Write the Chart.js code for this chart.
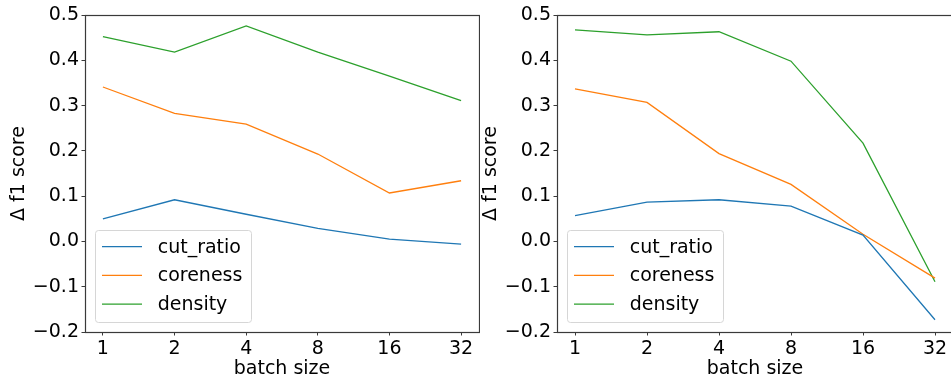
<!DOCTYPE html>
<html>
<head>
<meta charset="utf-8">
<script src="https://cdn.jsdelivr.net/npm/chart.js@4.4.1/dist/chart.umd.min.js"></script>
<style>
  html, body { margin: 0; padding: 0; background: #fff; width: 951px; height: 379px; overflow: hidden; }
  .panel { position: absolute; top: 0; height: 379px; }
  #leftPanel  { left: 0;     width: 480px; }
  #rightPanel { left: 472px; width: 488px; }
</style>
</head>
<body>
<div class="panel" id="leftPanel"><canvas id="leftChart"></canvas></div>
<div class="panel" id="rightPanel"><canvas id="rightChart"></canvas></div>
<script>
'use strict';

// ── Data ────────────────────────────────────────────────
const batchSizes  = ['1', '2', '4', '8', '16', '32'];
const yTicks      = [-0.2, -0.1, 0.0, 0.1, 0.2, 0.3, 0.4, 0.5];
const seriesNames = ['cut_ratio', 'coreness', 'density'];

const leftCutRatio  = [0.050, 0.092, 0.060, 0.029, 0.005, -0.006];
const leftCoreness  = [0.341, 0.283, 0.259, 0.193, 0.107, 0.134];
const leftDensity   = [0.452, 0.418, 0.476, 0.418, 0.365, 0.311];

const rightCutRatio = [0.057, 0.087, 0.092, 0.078, 0.014, -0.173];
const rightCoreness = [0.337, 0.307, 0.194, 0.126, 0.016, -0.081];
const rightDensity  = [0.467, 0.456, 0.463, 0.398, 0.217, -0.089];

const COLORS = ['#1f77b4', '#ff7f0e', '#2ca02c'];
const FONT = { family: "'DejaVu Sans', sans-serif", size: 19 };

// ── Spines: full box round the plot area ─────────────────
const spinesPlugin = {
    id: 'spines',
    afterDraw(chart) {
        const { ctx, chartArea: a } = chart;
        ctx.save();
        ctx.strokeStyle = '#3a3a3a';
        ctx.lineWidth = 1.2;
        ctx.strokeRect(Math.round(a.left) + 0.5, Math.round(a.top) + 0.5,
                       Math.round(a.right - a.left), Math.round(a.bottom - a.top));
        ctx.restore();
    }
};

// ── Legend drawn inside the plot, lower left ─────────────
const innerLegendPlugin = {
    id: 'innerLegend',
    afterDraw(chart) {
        const { ctx, chartArea: a } = chart;
        const sets = chart.data.datasets;
        const x0 = a.left + 10, w = 156, h = 92;
        const y0 = a.bottom - 10 - h;
        ctx.save();
        ctx.beginPath();
        ctx.roundRect(x0 + 0.5, y0 + 0.5, w, h, 3);
        ctx.fillStyle = 'rgba(255,255,255,0.8)';
        ctx.fill();
        ctx.strokeStyle = '#d6d6d6';
        ctx.lineWidth = 1;
        ctx.stroke();
        ctx.font = `${FONT.size}px ${FONT.family}`;
        ctx.textBaseline = 'middle';
        sets.forEach((ds, i) => {
            const cy = y0 + 16.7 + i * 28.7;
            ctx.strokeStyle = ds.borderColor;
            ctx.lineWidth = 1.3;
            ctx.beginPath();
            ctx.moveTo(x0 + 7, cy);
            ctx.lineTo(x0 + 47, cy);
            ctx.stroke();
            ctx.fillStyle = '#000';
            ctx.fillText(ds.label, x0 + 62.7, cy + 1);
        });
        ctx.restore();
    }
};

const makeChart = (canvasId, values, padRight) => {
    const datasets = values.map((vals, i) => ({
        label: seriesNames[i],
        data: vals.map((v, j) => ({ x: j, y: v })),
        borderColor: COLORS[i],
        backgroundColor: COLORS[i],
        borderWidth: 1.3,
        pointRadius: 0,
        tension: 0,
        fill: false,
    }));

    return new Chart(document.getElementById(canvasId), {
        type: 'line',
        data: { datasets },
        options: {
            responsive: true, maintainAspectRatio: false, animation: false,
            layout: { padding: { left: 0, top: 15, right: padRight, bottom: 0 } },
            plugins: { legend: { display: false }, tooltip: { enabled: false } },
            scales: {
                x: {
                    type: 'linear', min: -0.25, max: 5.25,
                    afterBuildTicks: s => { s.ticks = batchSizes.map((_, i) => ({ value: i })); },
                    afterFit: s => { s.height = 47; },
                    ticks: { color: '#000', font: FONT, padding: 2.5, maxRotation: 0,
                             callback: v => batchSizes[v] },
                    grid: { drawOnChartArea: false, tickLength: 3.5, tickColor: '#3a3a3a' },
                    border: { display: false },
                    title: { display: true, text: 'batch size', color: '#000', font: FONT,
                             padding: { top: 0, bottom: -1.5 } },
                },
                y: {
                    min: -0.2, max: 0.5,
                    afterBuildTicks: s => { s.ticks = yTicks.map(v => ({ value: v })); },
                    afterFit: s => { s.width = 85; },
                    ticks: { color: '#000', font: FONT, padding: 2.5,
                             callback: v => v.toFixed(1).replace('-', '\u2212') },
                    grid: { drawOnChartArea: false, tickLength: 3.5, tickColor: '#3a3a3a' },
                    border: { display: false },
                    title: { display: true, text: '\u0394 f1 score', color: '#000', font: FONT,
                             padding: { top: 7.5, bottom: 0 } },
                },
            },
        },
        plugins: [spinesPlugin, innerLegendPlugin],
    });
};

makeChart('leftChart',  [leftCutRatio,  leftCoreness,  leftDensity],  1);
makeChart('rightChart', [rightCutRatio, rightCoreness, rightDensity], 7);
</script>
</body>
</html>
